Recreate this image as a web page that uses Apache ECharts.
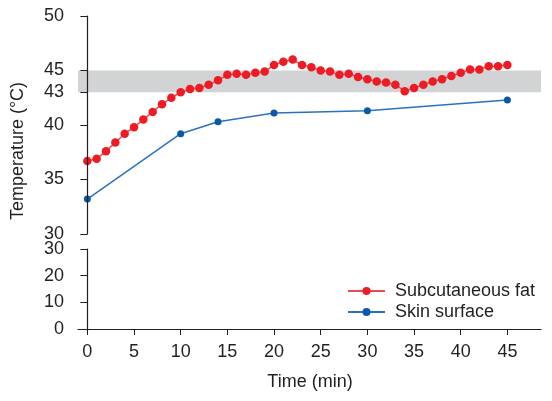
<!DOCTYPE html>
<html>
<head>
<meta charset="utf-8">
<script src="https://cdn.jsdelivr.net/npm/echarts@6/dist/echarts.min.js"></script>
<style>
  html, body { margin: 0; padding: 0; background: #fff; }
  #chart { width: 552px; height: 401px; }
</style>
</head>
<body>
<div id="chart"></div>
<script>
// minutes for the subcutaneous series (one reading a minute)
var fatTimes = [];
for (var i = 0; i <= 45; i++) fatTimes.push(i);
var fatTemps = [36.7, 36.9, 37.6, 38.4, 39.2, 39.8, 40.5, 41.2, 41.9, 42.5,
                43.0, 43.3, 43.4, 43.7, 44.1, 44.6, 44.7, 44.6, 44.8, 44.9,
                45.5, 45.8, 46.0, 45.5, 45.3, 45.0, 44.9, 44.6, 44.7, 44.4,
                44.2, 44.0, 43.9, 43.7, 43.1, 43.4, 43.7, 44.0, 44.2, 44.5,
                44.8, 45.1, 45.1, 45.4, 45.4, 45.5];
var skinTimes = [0, 10, 14, 20, 30, 45];
var skinTemps = [33.2, 39.2, 40.3, 41.1, 41.3, 42.3];

var upperTicks = [30, 35, 40, 43, 45, 50];
var xTicks = [0, 5, 10, 15, 20, 25, 30, 35, 40, 45];
var band = [43, 45];

var xMin = -1, xMax = 48.6;

function pairs(xs, ys) {
    return xs.map(function (x, i) { return [x, ys[i]]; });
}

var ink = '#231f20';
var font = 'Liberation Sans, Arial, sans-serif';
var fs = 18;

var myChart = echarts.init(document.getElementById('chart'));
myChart.setOption({
    animation: false,
    textStyle: { fontFamily: font },
    grid: [
        { left: 78, right: 11, top: 16, height: 218 },
        { left: 78, right: 11, top: 249, height: 80 }
    ],
    xAxis: [
        {
            gridIndex: 0, type: 'value', min: xMin, max: xMax,
            show: false
        },
        {
            gridIndex: 1, type: 'value', min: xMin, max: xMax,
            axisLine: { lineStyle: { color: ink, width: 1.2 } },
            axisTick: { show: true, length: 6, customValues: xTicks, lineStyle: { color: ink } },
            axisLabel: { customValues: xTicks, color: ink, fontSize: fs, margin: 14, fontFamily: font },
            splitLine: { show: false }
        }
    ],
    yAxis: [
        {
            gridIndex: 0, type: 'value', min: 30, max: 50, z: 10,
            axisLine: { show: true, lineStyle: { color: ink, width: 1.2 } },
            axisTick: { show: true, length: 7, customValues: upperTicks, lineStyle: { color: ink } },
            axisLabel: { customValues: upperTicks, color: ink, fontSize: fs, margin: 14, fontFamily: font },
            splitLine: { show: false }
        },
        {
            gridIndex: 1, type: 'value', min: 0, max: 30, interval: 10,
            axisLine: { show: true, lineStyle: { color: ink, width: 1.2 } },
            axisTick: { show: true, length: 7, lineStyle: { color: ink } },
            axisLabel: { color: ink, fontSize: fs, margin: 14, fontFamily: font },
            splitLine: { show: false }
        }
    ],
    legend: {
        data: ['Subcutaneous fat', 'Skin surface'],
        orient: 'vertical',
        left: 347,
        top: 282,
        padding: 0,
        itemWidth: 37,
        itemHeight: 10,
        itemGap: 3,
        textStyle: { color: ink, fontSize: fs, fontFamily: font, padding: [0, 0, 0, 5] }
    },
    graphic: [
        {
            type: 'text', x: 18, y: 151, rotation: Math.PI / 2,
            style: {
                text: 'Temperature (°C)', fill: ink, fontSize: fs, fontFamily: font,
                textAlign: 'center', textVerticalAlign: 'middle'
            }
        },
        {
            type: 'text', x: 310, y: 382,
            style: {
                text: 'Time (min)', fill: ink, fontSize: fs, fontFamily: font,
                textAlign: 'center', textVerticalAlign: 'middle'
            }
        }
    ],
    series: [
        {
            name: 'Subcutaneous fat',
            type: 'line',
            xAxisIndex: 0, yAxisIndex: 0,
            data: pairs(fatTimes, fatTemps),
            symbol: 'circle',
            symbolSize: 8.5,
            itemStyle: { color: '#ed1c24' },
            lineStyle: { color: '#ef4a50', width: 1.5 },
            z: 3,
            markArea: {
                silent: true,
                itemStyle: { color: '#d1d3d4' },
                data: [[{ yAxis: band[0], xAxis: xMin }, { yAxis: band[1], xAxis: xMax }]]
            }
        },
        {
            name: 'Skin surface',
            type: 'line',
            xAxisIndex: 0, yAxisIndex: 0,
            data: pairs(skinTimes, skinTemps),
            symbol: 'circle',
            symbolSize: 7,
            itemStyle: { color: '#0b57a8' },
            lineStyle: { color: '#2a72c0', width: 1.5 },
            z: 2
        }
    ]
});
window.onresize = function () {
    myChart.resize();
};
</script>
</body>
</html>
